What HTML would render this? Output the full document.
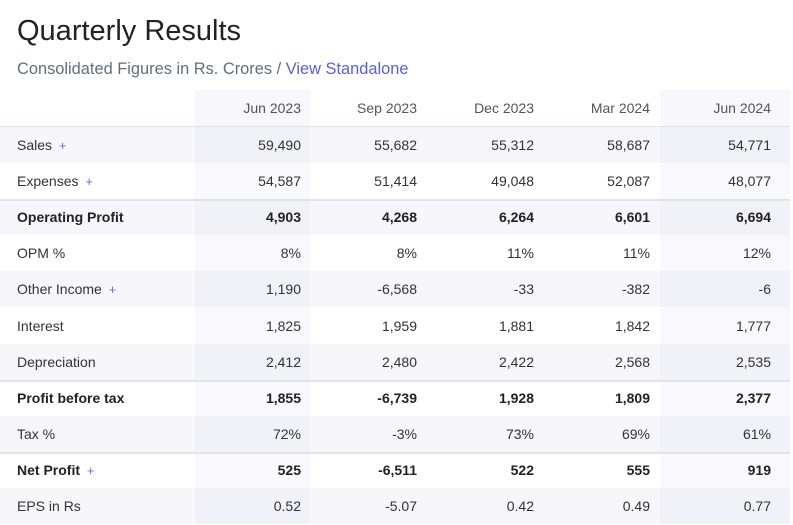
<!DOCTYPE html>
<html><head><style>
body{margin:0;background:#fff;font-family:"Liberation Sans",sans-serif;width:793px;height:525px;overflow:hidden;position:relative}
h1{position:absolute;left:17px;top:15px;margin:0;font-size:29px;font-weight:400;color:#222}
.sub{position:absolute;left:17px;top:60px;font-size:16.4px;color:#606f7b}
.sub a{color:#5a5fd6;text-decoration:none}
table{position:absolute;left:0;top:90px;border-collapse:collapse;width:790px;font-size:14px;color:#333}
td,th{height:36.1px;padding:0;text-align:right;font-weight:400}
th{color:#555;height:36px;border-bottom:1px solid #dfe3ea}
td:first-child,th:first-child{text-align:left;padding-left:17px;width:178px}
td:nth-child(2),th:nth-child(2){width:106px;padding-right:9px}
td:nth-child(3),th:nth-child(3){width:107px;padding-right:10px}
td:nth-child(4),th:nth-child(4){width:107px;padding-right:9px}
td:nth-child(5),th:nth-child(5){width:107px;padding-right:10px}
td:nth-child(6),th:nth-child(6){padding-right:19px}
th:nth-child(2),th:nth-child(6){background:#f7f7fc}
tr.o td{background:#f6f6fb}
tr td:nth-child(2),tr td:nth-child(6){background:#f9f9fd}
tr.o td:nth-child(2),tr.o td:nth-child(6){background:#f1f1f8}
tr.b td{font-weight:700;color:#222}
tr.t td{box-shadow:inset 0 2px 0 #dfe3ea}
.p{color:#6d6de0;font-size:13px;margin-left:3px}
</style></head><body>
<h1>Quarterly Results</h1>
<div class="sub">Consolidated Figures in Rs. Crores / <a>View Standalone</a></div>
<table>
<tr><th></th><th>Jun 2023</th><th>Sep 2023</th><th>Dec 2023</th><th>Mar 2024</th><th>Jun 2024</th></tr>
<tr class="o"><td>Sales <span class="p">+</span></td><td>59,490</td><td>55,682</td><td>55,312</td><td>58,687</td><td>54,771</td></tr>
<tr><td>Expenses <span class="p">+</span></td><td>54,587</td><td>51,414</td><td>49,048</td><td>52,087</td><td>48,077</td></tr>
<tr class="o b t"><td>Operating Profit</td><td>4,903</td><td>4,268</td><td>6,264</td><td>6,601</td><td>6,694</td></tr>
<tr><td>OPM %</td><td>8%</td><td>8%</td><td>11%</td><td>11%</td><td>12%</td></tr>
<tr class="o"><td>Other Income <span class="p">+</span></td><td>1,190</td><td>-6,568</td><td>-33</td><td>-382</td><td>-6</td></tr>
<tr><td>Interest</td><td>1,825</td><td>1,959</td><td>1,881</td><td>1,842</td><td>1,777</td></tr>
<tr class="o"><td>Depreciation</td><td>2,412</td><td>2,480</td><td>2,422</td><td>2,568</td><td>2,535</td></tr>
<tr class="b t"><td>Profit before tax</td><td>1,855</td><td>-6,739</td><td>1,928</td><td>1,809</td><td>2,377</td></tr>
<tr class="o"><td>Tax %</td><td>72%</td><td>-3%</td><td>73%</td><td>69%</td><td>61%</td></tr>
<tr class="b t"><td>Net Profit <span class="p" style="font-weight:400">+</span></td><td>525</td><td>-6,511</td><td>522</td><td>555</td><td>919</td></tr>
<tr class="o"><td>EPS in Rs</td><td>0.52</td><td>-5.07</td><td>0.42</td><td>0.49</td><td>0.77</td></tr>
</table>
</body></html>
